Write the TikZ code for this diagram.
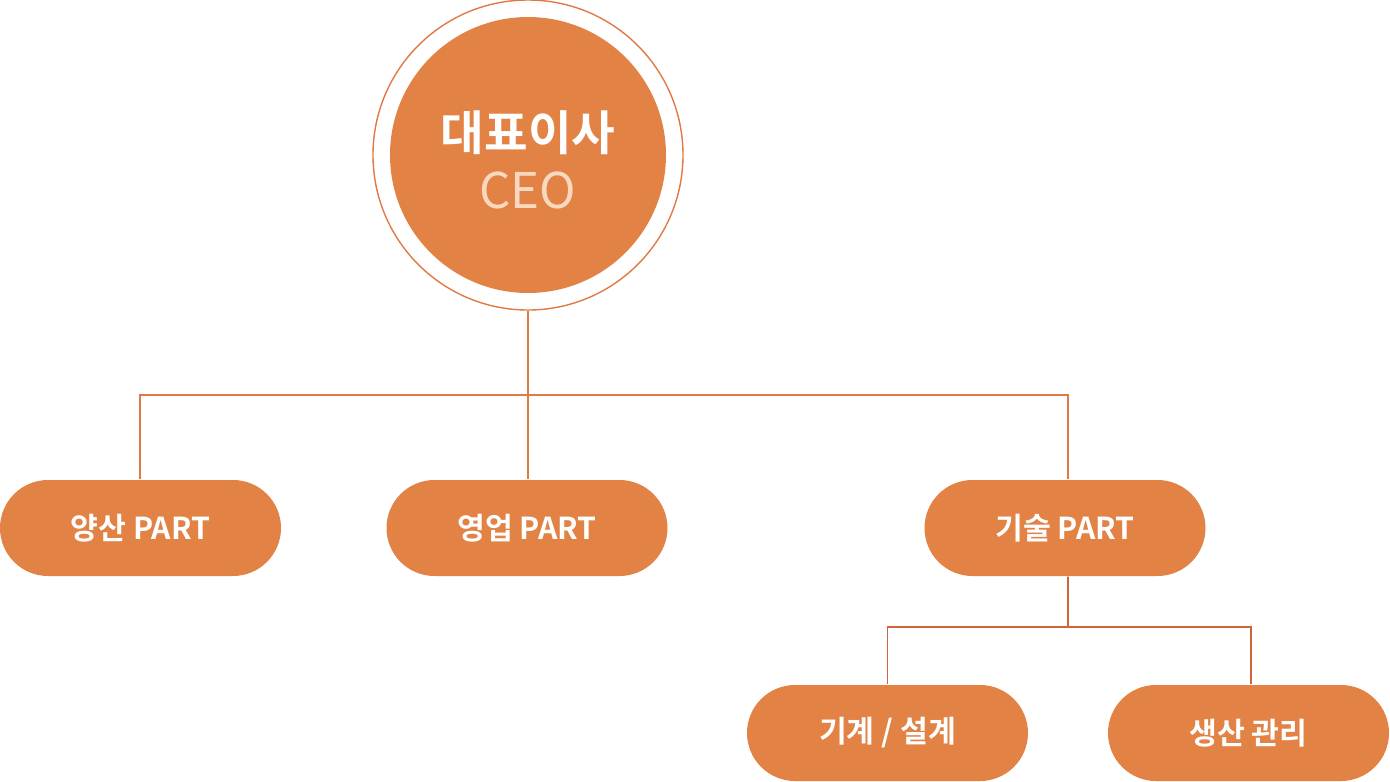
\documentclass[tikz,border=0pt]{standalone}
\usepackage{fontspec}
\setmainfont{Noto Sans CJK KR}[BoldFont={Noto Sans CJK KR Bold}]
\usepackage{tikz}
\usetikzlibrary{positioning}
\definecolor{orgfill}{HTML}{E38245}
\definecolor{orgline}{HTML}{E07A45}
\definecolor{orgdark}{HTML}{D0643A}
\definecolor{ceotext}{HTML}{F8D8BE}

\begin{document}
\begin{tikzpicture}[
    part/.style={fill=orgfill,rounded corners=4.8mm,minimum width=28.1mm,minimum height=9.6mm,inner sep=0pt,text=white,font=\bfseries\fontsize{8.6}{10}\selectfont},
    link/.style={draw=orgline,line width=0.5pt},
    sublink/.style={draw=orgdark,line width=0.5pt}
]
\useasboundingbox (0,0) rectangle (13.9,-7.82);
% top
\node[circle,draw=orgline,line width=0.4pt,minimum size=31mm,inner sep=0pt] (ring) at (5.28,-1.55) {};
\node[circle,fill=orgfill,minimum size=27.6mm,inner sep=0pt,align=center] (ceo) at (5.28,-1.55) {};
\node[text=white,font=\bfseries\fontsize{13.5}{15}\selectfont] (ceokr) at (5.28,-1.33) {대표이사};
\node[text=ceotext,font=\fontsize{14}{16}\selectfont] (ceoen) at (5.28,-1.9) {CEO};
% parts
\node[part] (yangsan) at (1.405,-5.28) {양산 PART};
\node[part] (yeongup) at (5.27,-5.28) {영업 PART};
\node[part] (gisul) at (10.65,-5.28) {기술 PART};
\node[part] (gigye) at (8.875,-7.33) {기계 / 설계};
\node[part] (saengsan) at (12.485,-7.33) {생산 관리};
% links
\coordinate (bus) at (5.28,-3.95);
\coordinate (subbus) at (10.68,-6.27);
\draw[link] (ring.south) -- (ring.south |- yeongup.north);
\draw[link] (bus) -| ([xshift=-0.005cm]yangsan.north);
\draw[link] (bus) -| ([xshift=0.03cm]gisul.north);
\draw[sublink] ([xshift=0.03cm]gisul.south) -- (subbus);
\draw[sublink] (subbus) -| (gigye.north);
\draw[sublink] (subbus) -| ([xshift=0.025cm]saengsan.north);
\end{tikzpicture}
\end{document}
